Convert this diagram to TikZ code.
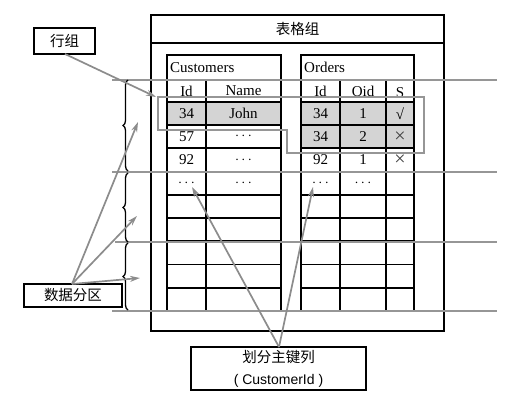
\documentclass[tikz,border=0pt]{standalone}
\usepackage{fontspec}
\setmainfont{Liberation Serif}
\setsansfont{Liberation Sans}
\newfontfamily\cjk{Noto Sans CJK SC}
\usetikzlibrary{decorations.pathreplacing,arrows.meta}
\definecolor{gline}{RGB}{150,150,150}
\definecolor{garrow}{RGB}{140,140,140}
\definecolor{cellfill}{RGB}{212,212,212}
\begin{document}
\begin{tikzpicture}[x=1pt,y=-1pt,
  tline/.style={line width=1.8pt,black},
  gline/.style={line width=2.4pt,draw=gline},
  arr/.style={line width=1.7pt,draw=garrow,-{Stealth[length=10pt,width=6pt]}},
  lbl/.style={draw,line width=1.6pt,fill=white,inner sep=0pt,font=\cjk\fontsize{14.5}{16}\selectfont},
  cell/.style={font=\fontsize{15}{17}\selectfont,inner sep=0pt},
  bigx/.style={font=\fontsize{20}{20}\selectfont,inner sep=0pt,text=black!75},
  bracestyle/.style={decorate,decoration={brace,amplitude=5pt},line width=1.3pt,black}]
\useasboundingbox (0,0) rectangle (515,404);
% outer group box
\draw[line width=1.8pt] (151,15) rectangle (444,331);
\draw[line width=1.8pt] (151,43) -- (444,43);
\node[cell,font=\cjk\fontsize{14.5}{16}\selectfont] (grptitle) at (297.5,29) {表格组};
% fills
\fill[cellfill] (167,102) rectangle (281,125.2);
\fill[cellfill] (301,102) rectangle (414,148.4);
% Customers table
\draw[tline] (167,55) rectangle (281,311);
\draw[tline] (167,80) -- (281,80);
\foreach \k in {0,...,8} {\draw[tline] (167,{102+23.2*\k}) -- (281,{102+23.2*\k});}
\draw[tline] (206,80) -- (206,311);
% Orders table
\draw[tline] (301,55) rectangle (414,311);
\draw[tline] (301,80) -- (414,80);
\foreach \k in {0,...,8} {\draw[tline] (301,{102+23.2*\k}) -- (414,{102+23.2*\k});}
\draw[tline] (340,80) -- (340,311);
\draw[tline] (386,80) -- (386,311);
% titles
\node[cell,anchor=west] (ctitle) at (170,67.5) {Customers};
\node[cell,anchor=west] (otitle) at (304,67.5) {Orders};
% Customers cells
\node[cell] (ch1) at (186.5,91) {Id};
\node[cell] (ch2) at (243.5,91) {Name};
\node[cell] (c11) at (186.5,113.6) {34};
\node[cell] (c12) at (243.5,113.6) {John};
\node[cell] (c21) at (186.5,136.8) {57};
\node[cell] (c22) at (243.5,136.8) {$\cdots$};
\node[cell] (c31) at (186.5,160) {92};
\node[cell] (c32) at (243.5,160) {$\cdots$};
\node[cell] (c41) at (186.5,183.2) {$\cdots$};
\node[cell] (c42) at (243.5,183.2) {$\cdots$};
% Orders cells
\node[cell] (oh1) at (320.5,91) {Id};
\node[cell] (oh2) at (363,91) {Oid};
\node[cell] (oh3) at (400,92.5) {S};
\node[cell] (o11) at (320.5,113.6) {34};
\node[cell] (o12) at (363,113.6) {1};
\node[cell] (o13) at (400,113.6) {√};
\node[cell] (o21) at (320.5,136.8) {34};
\node[cell] (o22) at (363,136.8) {2};
\node[bigx] (o23) at (400,136.8) {×};
\node[cell] (o31) at (320.5,160) {92};
\node[cell] (o32) at (363,160) {1};
\node[bigx] (o33) at (400,160) {×};
\node[cell] (o41) at (320.5,183.2) {$\cdots$};
\node[cell] (o42) at (363,183.2) {$\cdots$};
% gray partition lines
\draw[gline] (112,80) -- (497,80);
\draw[gline] (112,172) -- (497,172);
\draw[gline] (115,242) -- (497,242);
\draw[gline] (112,311) -- (497,311);
% row group outline
\draw[gline] (158,97) -- (424,97) -- (424,153) -- (287,153) -- (287,130) -- (158,130) -- cycle;
% braces
\draw[bracestyle] (128,171) -- (128,80);
\draw[bracestyle] (128,242) -- (128,173);
\draw[bracestyle] (128,310) -- (128,243);
% labels
\node[lbl,minimum width=61pt,minimum height=26pt] (hang) at (64.5,41) {行组};
\node[lbl,minimum width=98pt,minimum height=23pt] (part) at (73,295.5) {数据分区};
\node[lbl,minimum width=175pt,minimum height=43pt,align=center] (key) at (278.5,368.5)
  {划分主键列\\[6pt]{\sffamily\fontsize{14}{16}\selectfont ( CustomerId )}};
% arrow targets
\coordinate (rg) at (156,97);
\coordinate (p1) at (138,122);
\coordinate (p2) at (137,216);
\coordinate (p3) at (140,278);
\coordinate (k1) at (192,187);
\coordinate (k2) at (313,187);
\coordinate (hs) at (65,54);
\coordinate (ps) at (72,284);
\coordinate (ks) at (279,347);
% arrows
\draw[arr] (hs) -- (rg);
\draw[arr] (ps) -- (p1);
\draw[arr] (ps) -- (p2);
\draw[arr] (ps) -- (p3);
\draw[arr] (ks) -- (k1);
\draw[arr] (ks) -- (k2);
\end{tikzpicture}
\end{document}
